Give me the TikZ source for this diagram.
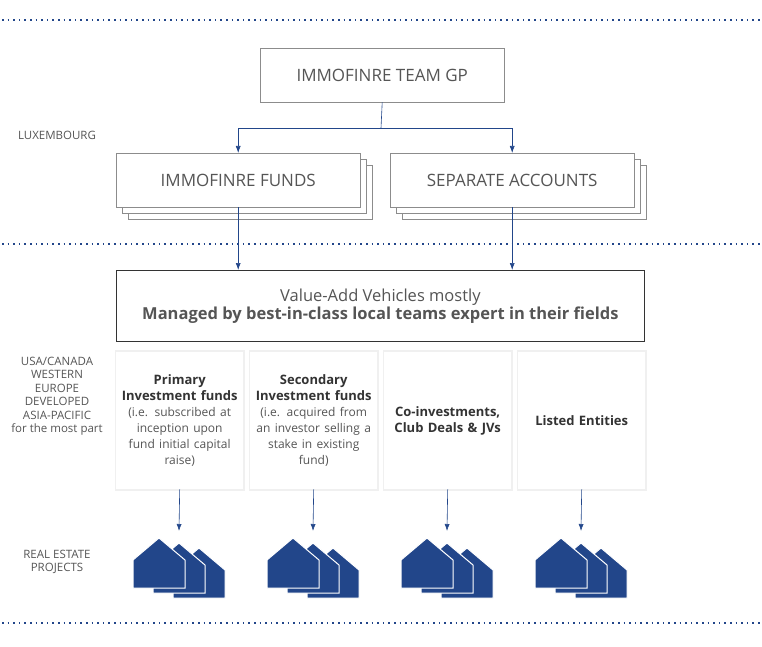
\documentclass[tikz,border=0pt]{standalone}
\usepackage{fontspec}
\setmainfont{Open Sans}
\usetikzlibrary{arrows.meta, positioning, shadows}
\definecolor{immoblue}{HTML}{22468A}
\definecolor{boxgray}{HTML}{8C8C8C}
\definecolor{txtgray}{HTML}{555555}

\newcommand{\reHouse}[2]{%
  \fill[immoblue, draw=white, line width=1pt] (#1+40,#2+10) -- ++(0,-28) -- ++(26,-22) -- ++(26,22) -- ++(0,28) -- cycle;
  \fill[immoblue, draw=white, line width=1pt] (#1+20,#2+5) -- ++(0,-28) -- ++(26,-22) -- ++(26,22) -- ++(0,28) -- cycle;
  \fill[immoblue, draw=white, line width=1pt] (#1,#2) -- ++(0,-28) -- ++(26,-22) -- ++(26,22) -- ++(0,28) -- cycle;}

\begin{document}
\begin{tikzpicture}[
        x=1pt, y=-1pt,
        >={Latex[length=7pt,width=5pt]},
        link/.style={->, immoblue, line width=0.6pt},
        sep/.style={immoblue, line width=1.6pt, dash pattern=on 1.6pt off 4pt},
        entity/.style={draw=boxgray, fill=white, font=\fontsize{17}{20}\selectfont, text=txtgray, minimum width=244pt, minimum height=54pt, anchor=north west, inner sep=0pt},
        stacked/.style={entity, double copy shadow={shadow xshift=6pt, shadow yshift=-6pt, draw=boxgray, fill=white}},
        vehicle/.style={draw=black!80, line width=0.8pt, fill=white, font=\fontsize{16.5}{19}\selectfont, text=txtgray, minimum width=528pt, minimum height=71pt, anchor=north west, align=center},
        strategy/.style={fill=white, text=black!80, font=\fontsize{13}{16}\selectfont, minimum width=127pt, minimum height=137pt, anchor=north west, align=center, text width=125pt, inner sep=1pt, general shadow={fill=black!6, shadow scale=1.025}},
        region/.style={text=txtgray, font=\fontsize{11.5}{13.5}\selectfont, align=center}
    ]
        \useasboundingbox (0,0) rectangle (762,647);

        % separators
        \draw[sep] (2,20) -- (762,20);
        \draw[sep] (2,244) -- (762,244);
        \draw[sep] (2,623) -- (762,623);

        % region labels
        \node[region] (lux) at (57,135) {LUXEMBOURG};
        \node[region] (world) at (57,396) {USA/CANADA\\WESTERN\\EUROPE\\DEVELOPED\\ASIA-PACIFIC\\for the most part};
        \node[region] (projects) at (57,562) {REAL ESTATE\\PROJECTS};

        % structure
        \node[entity] (gp) at (260,48) {IMMOFINRE TEAM GP};
        \node[stacked] (funds) at (116,153) {IMMOFINRE FUNDS};
        \node[stacked] (accounts) at (390,153) {SEPARATE ACCOUNTS};
        \node[vehicle] (vav) at (116,270) {Value-Add Vehicles mostly\\[-1pt]\textbf{Managed by best-in-class local teams expert in their fields}};

        \node[strategy] (primary) at (116,352) {\textbf{Primary}\\\textbf{Investment funds}\\{\color{txtgray}\fontsize{12}{16}\selectfont (i.e. subscribed at\\inception upon\\fund initial capital\\raise)}};
        \node[strategy] (secondary) at (250,352) {\textbf{Secondary}\\\textbf{Investment funds}\\{\color{txtgray}\fontsize{12}{16}\selectfont (i.e. acquired from\\an investor selling a\\stake in existing\\fund)}};
        \node[strategy] (coinv) at (384,352) {\textbf{Co-investments,}\\\textbf{Club Deals \& JVs}};
        \node[strategy] (listed) at (518,352) {\textbf{Listed Entities}};

        % houses
        \reHouse{133}{588}
        \reHouse{267}{588}
        \reHouse{401}{588}
        \reHouse{535}{588}
        \coordinate (h1) at (179,531);
        \coordinate (h2) at (313,531);
        \coordinate (h3) at (447,531);
        \coordinate (h4) at (581,531);

        % connectors
        \coordinate (split) at (381,128);
        \draw[immoblue, line width=0.6pt] (gp.south) -- (split);
        \draw[link] (split) -| (funds.north);
        \draw[link] (split) -| (accounts.north);
        \draw[link] (funds.south) -- (vav.north -| funds.south);
        \draw[link] (accounts.south) -- (vav.north -| accounts.south);
        \draw[link] (primary.south) -- (h1);
        \draw[link] (secondary.south) -- (h2);
        \draw[link] (coinv.south) -- (h3);
        \draw[link] (listed.south) -- (h4);
    \end{tikzpicture}
\end{document}
